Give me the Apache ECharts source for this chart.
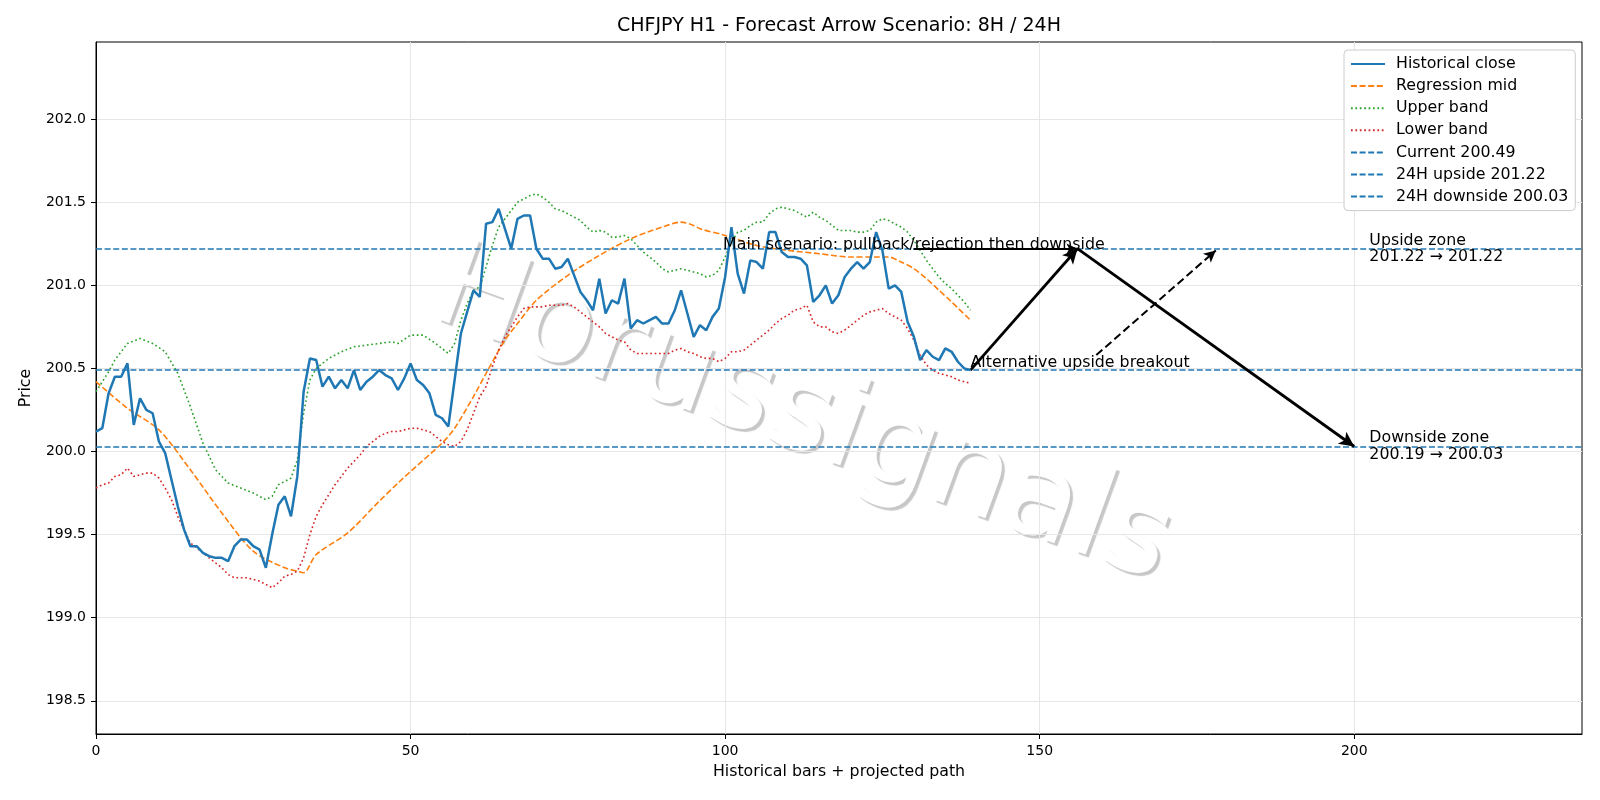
<!DOCTYPE html>
<html>
<head>
<meta charset="utf-8">
<script src="https://cdn.jsdelivr.net/npm/echarts@6/dist/echarts.min.js"></script>
<style>
  html, body { margin: 0; padding: 0; background: #fff; }
  #chart { width: 1600px; height: 800px; }
</style>
</head>
<body>
<div id="chart"></div>
<script>
// ---- data ----
const titleText = 'CHFJPY H1 - Forecast Arrow Scenario: 8H / 24H';

// historical close, one value per bar (bar index = position)
const histClose = [
  200.12, 200.14, 200.35, 200.45, 200.45, 200.53, 200.16, 200.32, 200.25, 200.23,
  200.06, 199.99, 199.83, 199.67, 199.53, 199.43, 199.43, 199.39, 199.37, 199.36,
  199.36, 199.34, 199.43, 199.47, 199.47, 199.43, 199.41, 199.30, 199.50, 199.68,
  199.73, 199.61, 199.85, 200.36, 200.56, 200.55, 200.39, 200.45, 200.38, 200.43,
  200.38, 200.49, 200.37, 200.42, 200.45, 200.49, 200.46, 200.44, 200.37, 200.44,
  200.53, 200.43, 200.40, 200.35, 200.22, 200.20, 200.15, 200.43, 200.71, 200.84,
  200.97, 200.93, 201.37, 201.38, 201.46, 201.34, 201.22, 201.40, 201.42, 201.42,
  201.22, 201.16, 201.16, 201.10, 201.11, 201.16, 201.06, 200.96, 200.91, 200.85,
  201.04, 200.83, 200.91, 200.89, 201.04, 200.74, 200.79, 200.77, 200.79, 200.81,
  200.77, 200.77, 200.85, 200.97, 200.83, 200.69, 200.76, 200.73, 200.81, 200.86,
  201.05, 201.35, 201.07, 200.95, 201.15, 201.14, 201.10, 201.32, 201.32, 201.20,
  201.17, 201.17, 201.16, 201.12, 200.90, 200.94, 201.00, 200.89, 200.94, 201.05,
  201.10, 201.14, 201.10, 201.14, 201.32, 201.21, 200.98, 201.00, 200.96, 200.78,
  200.69, 200.55, 200.61, 200.57, 200.55, 200.62, 200.60, 200.54, 200.50, 200.49
];

// [bar, value] pairs
const regressionMid = [
  [0, 200.42], [5, 200.26], [10, 200.13], [15, 199.89], [20, 199.63], [25, 199.40],
  [30, 199.30], [32, 199.28], [33, 199.27], [35, 199.38], [40, 199.51], [45, 199.70],
  [48, 199.81], [50, 199.88], [55, 200.05], [57, 200.14], [60, 200.33], [62, 200.47],
  [65, 200.67], [67, 200.77], [70, 200.91], [75, 201.06], [80, 201.18], [85, 201.28],
  [90, 201.35], [93, 201.38], [95, 201.36], [96, 201.34], [100, 201.30], [105, 201.24],
  [110, 201.21], [115, 201.19], [120, 201.17], [124, 201.17], [126, 201.17], [128, 201.14],
  [130, 201.10], [132, 201.04], [134, 200.97], [136, 200.90], [139, 200.79]
];

const upperBand = [
  [0, 200.36], [2, 200.48], [3, 200.55], [5, 200.65], [7, 200.68], [9, 200.65], [11, 200.60],
  [13, 200.47], [15, 200.27], [17, 200.05], [19, 199.89], [21, 199.81], [23, 199.78],
  [25, 199.75], [27, 199.71], [28, 199.73], [29, 199.80], [30, 199.82], [31, 199.84],
  [32, 199.95], [33, 200.23], [34, 200.43], [35, 200.50], [37, 200.56], [39, 200.60],
  [41, 200.63], [43, 200.64], [45, 200.65], [47, 200.66], [48, 200.65], [50, 200.70],
  [52, 200.70], [54, 200.65], [56, 200.59], [57, 200.65], [58, 200.79], [59, 200.89],
  [60, 200.97], [61, 200.99], [62, 201.11], [63, 201.24], [64, 201.35], [65, 201.40],
  [66, 201.45], [67, 201.50], [68, 201.52], [69, 201.54], [70, 201.55], [71, 201.53],
  [72, 201.50], [73, 201.46], [74, 201.45], [75, 201.43], [76, 201.41], [77, 201.39],
  [78, 201.35], [79, 201.32], [80, 201.33], [81, 201.32], [82, 201.29], [83, 201.29],
  [84, 201.30], [85, 201.28], [86, 201.24], [87, 201.20], [88, 201.17], [89, 201.14],
  [90, 201.10], [91, 201.08], [92, 201.09], [93, 201.10], [94, 201.09], [95, 201.08],
  [96, 201.07], [97, 201.05], [98, 201.06], [99, 201.09], [100, 201.17], [101, 201.26],
  [102, 201.32], [103, 201.33], [104, 201.36], [105, 201.38], [106, 201.38], [107, 201.43],
  [108, 201.46], [109, 201.47], [110, 201.46], [111, 201.45], [112, 201.43], [113, 201.41],
  [114, 201.44], [115, 201.41], [116, 201.39], [117, 201.36], [118, 201.33], [119, 201.33],
  [120, 201.33], [121, 201.32], [122, 201.32], [123, 201.33], [124, 201.38], [125, 201.40],
  [126, 201.39], [127, 201.37], [128, 201.35], [129, 201.32], [130, 201.27], [131, 201.21],
  [132, 201.15], [133, 201.10], [134, 201.05], [135, 201.01], [136, 200.98], [137, 200.94],
  [138, 200.90], [139, 200.85]
];

// lower band, one value per bar
const lowerBand = [
  199.78, 199.80, 199.81, 199.85, 199.86, 199.90, 199.85, 199.86, 199.87, 199.87,
  199.84, 199.78, 199.71, 199.61, 199.53, 199.45, 199.42, 199.39, 199.36, 199.33,
  199.30, 199.26, 199.24, 199.24, 199.24, 199.23, 199.22, 199.20, 199.18, 199.21,
  199.25, 199.26, 199.28, 199.36, 199.50, 199.61, 199.68, 199.74, 199.80, 199.85,
  199.90, 199.94, 199.98, 200.03, 200.06, 200.09, 200.11, 200.12, 200.12, 200.13,
  200.14, 200.14, 200.13, 200.12, 200.09, 200.06, 200.04, 200.03, 200.06, 200.13,
  200.23, 200.33, 200.39, 200.51, 200.61, 200.69, 200.75, 200.81, 200.86, 200.87,
  200.87, 200.87, 200.88, 200.88, 200.88, 200.89, 200.87, 200.84, 200.81, 200.78,
  200.75, 200.71, 200.69, 200.67, 200.66, 200.61, 200.59, 200.59, 200.59, 200.59,
  200.59, 200.59, 200.61, 200.62, 200.60, 200.59, 200.57, 200.56, 200.56, 200.54,
  200.56, 200.60, 200.60, 200.61, 200.64, 200.67, 200.70, 200.73, 200.77, 200.80,
  200.82, 200.85, 200.86, 200.88, 200.78, 200.75, 200.75, 200.72, 200.71, 200.73,
  200.76, 200.79, 200.82, 200.84, 200.85, 200.86, 200.83, 200.81, 200.79, 200.74,
  200.67, 200.58, 200.52, 200.49, 200.47, 200.46, 200.45, 200.43, 200.42, 200.41
];

const currentLevel = 200.49;
const upsideLevel = 201.22;
const downsideLevel = 200.03;
const downsideStart = 200.19;

// projected paths [bar, price]
const mainPath = [[139, 200.49], [156, 201.22], [200, 200.03]];
const mainNoteArrow = [[130, 201.22], [156, 201.22]];
const altPath = [[159, 200.58], [178, 201.21]];

const xTicks = [0, 50, 100, 150, 200];
const yTicks = [198.5, 199.0, 199.5, 200.0, 200.5, 201.0, 201.5, 202.0];
const xRange = [0, 236.2];
const yRange = [198.30, 202.464];

const font = '"DejaVu Sans", sans-serif';
const blue = '#1f77b4';
const textSize = 15.8;

const chart = echarts.init(document.getElementById('chart'));

function levelSeries(name, level) {
  return {
    name: name,
    type: 'line',
    data: [],
    symbol: 'none',
    itemStyle: { color: blue },
    lineStyle: { color: blue, width: 1.5, type: [6, 2.6] },
    markLine: {
      silent: true,
      symbol: 'none',
      animation: false,
      label: { show: false },
      lineStyle: { color: blue, width: 1.5, type: [6, 2.6] },
      data: [{ yAxis: level }]
    }
  };
}

function arrowSeries(segments, width, dash, headSize) {
  return {
    type: 'line',
    data: [],
    symbol: 'none',
    z: 7,
    markLine: {
      silent: true,
      animation: false,
      symbol: ['none', 'arrow'],
      symbolSize: headSize,
      label: { show: false },
      lineStyle: { color: '#000', width: width, type: dash, opacity: 1 },
      data: segments.map(s => [{ coord: s[0] }, { coord: s[1] }])
    }
  };
}

const levelNames = [
  'Current ' + currentLevel.toFixed(2),
  '24H upside ' + upsideLevel.toFixed(2),
  '24H downside ' + downsideLevel.toFixed(2)
];

const notes = [
  { value: [130, 201.245], name: 'Main scenario: pullback/rejection then downside',
    label: { align: 'center', verticalAlign: 'middle' } },
  { value: [139, 200.485], name: 'Alternative upside breakout',
    label: { align: 'left', verticalAlign: 'bottom' } },
  { value: [202.4, upsideLevel], name: 'Upside zone\n' + upsideLevel.toFixed(2) + ' \u2192 ' + upsideLevel.toFixed(2),
    label: { align: 'left', verticalAlign: 'middle' } },
  { value: [202.4, downsideLevel], name: 'Downside zone\n' + downsideStart.toFixed(2) + ' \u2192 ' + downsideLevel.toFixed(2),
    label: { align: 'left', verticalAlign: 'middle' } }
];

const option = {
  animation: false,
  backgroundColor: '#fff',
  textStyle: { fontFamily: font },
  graphic: [
    {
      type: 'text', x: 839, y: 26.5, z: 10,
      style: { text: titleText, font: '19px ' + font, fill: '#000', align: 'center', verticalAlign: 'middle' }
    },
    {
      type: 'text', x: 802, y: 418, z: -1,
      rotation: -20 * Math.PI / 180,
      style: {
        text: 'Horussignals', font: '121px ' + font, fill: '#ffffff',
        align: 'center', verticalAlign: 'middle',
        textShadowColor: 'rgba(0,0,0,0.22)', textShadowBlur: 1,
        textShadowOffsetX: 3, textShadowOffsetY: 3
      }
    }
  ],
  grid: {
    left: 96, right: 18, top: 42, bottom: 66,
    show: true, borderColor: '#000', borderWidth: 1, backgroundColor: 'transparent'
  },
  legend: {
    orient: 'vertical',
    left: 1344, top: 50,
    data: ['Historical close', 'Regression mid', 'Upper band', 'Lower band'].concat(levelNames),
    itemWidth: 34, itemHeight: 14, itemGap: 6.1,
    padding: [6, 7, 6, 6],
    itemStyle: { opacity: 0 },
    backgroundColor: '#fff',
    borderColor: '#cccccc', borderWidth: 1, borderRadius: 4,
    textStyle: { fontSize: textSize, color: '#000', fontFamily: font, padding: [0, 0, 0, 6] }
  },
  xAxis: {
    type: 'value', min: xRange[0], max: xRange[1],
    name: 'Historical bars + projected path', nameLocation: 'middle', nameGap: 30,
    nameTextStyle: { fontSize: textSize, color: '#000', fontFamily: font },
    axisLine: { show: true, onZero: false, lineStyle: { color: '#000', width: 1 } },
    axisTick: { show: true, inside: false, length: 5, lineStyle: { color: '#000' }, customValues: xTicks },
    axisLabel: { fontSize: 14, color: '#000', margin: 10, customValues: xTicks, fontFamily: font },
    splitLine: { show: true, lineStyle: { color: '#e6e6e6', width: 1 } }
  },
  yAxis: {
    type: 'value', min: yRange[0], max: yRange[1],
    name: 'Price', nameLocation: 'middle', nameGap: 62,
    nameTextStyle: { fontSize: textSize, color: '#000', fontFamily: font },
    axisLine: { show: true, onZero: false, lineStyle: { color: '#000', width: 1 } },
    axisTick: { show: true, inside: false, length: 5, lineStyle: { color: '#000' }, customValues: yTicks },
    axisLabel: { fontSize: 14, color: '#000', margin: 10, customValues: yTicks, fontFamily: font,
      formatter: v => v.toFixed(1) },
    splitLine: { show: true, lineStyle: { color: '#e6e6e6', width: 1 } }
  },
  series: [
    {
      name: 'Historical close', type: 'line', symbol: 'none', z: 5,
      data: histClose.map((v, i) => [i, v]),
      itemStyle: { color: blue },
      lineStyle: { color: blue, width: 2.5 }
    },
    {
      name: 'Regression mid', type: 'line', symbol: 'none', z: 4, smooth: 0.3,
      data: regressionMid,
      itemStyle: { color: '#ff7f0e' },
      lineStyle: { color: '#ff7f0e', width: 1.6, type: [6, 2.6] }
    },
    {
      name: 'Upper band', type: 'line', symbol: 'none', z: 4,
      data: upperBand,
      itemStyle: { color: '#2ca02c' },
      lineStyle: { color: '#2ca02c', width: 1.6, type: [1.7, 2.7] }
    },
    {
      name: 'Lower band', type: 'line', symbol: 'none', z: 4,
      data: lowerBand.map((v, i) => [i, v]),
      itemStyle: { color: '#d62728' },
      lineStyle: { color: '#d62728', width: 1.6, type: [1.7, 2.7] }
    },
    levelSeries(levelNames[0], currentLevel),
    levelSeries(levelNames[1], upsideLevel),
    levelSeries(levelNames[2], downsideLevel),
    arrowSeries([[mainPath[0], mainPath[1]], [mainPath[1], mainPath[2]]], 2.8, 'solid', [11, 15]),
    arrowSeries([mainNoteArrow], 1.8, 'solid', [8, 11]),
    arrowSeries([altPath], 2, [8, 4], [9, 12]),
    {
      type: 'scatter', symbolSize: 0, silent: true, z: 8,
      data: notes,
      itemStyle: { opacity: 1 },
      label: {
        show: true, position: 'inside', formatter: '{b}', opacity: 1,
        fontSize: textSize, color: '#000', fontFamily: font, lineHeight: 16.5
      }
    }
  ]
};

chart.setOption(option);
</script>
</body>
</html>
